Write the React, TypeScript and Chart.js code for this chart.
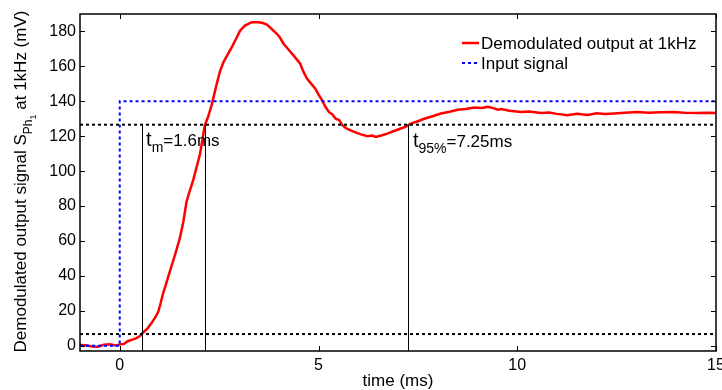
import { useEffect, useRef } from "react";
import { Chart, registerables } from "chart.js";

Chart.register(...registerables);

const FONT = '"Liberation Sans", Arial, Helvetica, sans-serif';

// Demodulated output (mV) sampled over time (ms)
const timeMs = [
  -1, -0.85, -0.7, -0.55, -0.4, -0.25, -0.1, 0.0, 0.1, 0.2, 0.3, 0.42, 0.5, 0.59, 0.7, 0.8, 0.9,
  0.97, 1.03, 1.09, 1.16, 1.22, 1.3, 1.39, 1.51, 1.6, 1.68, 1.76, 1.85, 1.93, 2.02, 2.14, 2.22,
  2.31, 2.44, 2.52, 2.61, 2.72, 2.82, 2.93, 3.03, 3.15, 3.32, 3.49, 3.6, 3.7, 3.82, 3.95, 4.03,
  4.12, 4.25, 4.37, 4.54, 4.62, 4.71, 4.82, 4.92, 5.0, 5.09, 5.17, 5.26, 5.35, 5.43, 5.52, 5.6,
  5.7, 5.81, 5.9, 6.05, 6.23, 6.35, 6.44, 6.6, 6.73, 6.9, 7.07, 7.2, 7.32, 7.5, 7.66, 7.85, 8.08,
  8.3, 8.5, 8.7, 8.92, 9.1, 9.26, 9.4, 9.51, 9.6, 9.8, 10.1, 10.3, 10.6, 10.8, 11.0, 11.26, 11.5,
  11.77, 12.0, 12.2, 12.44, 12.7, 13.02, 13.3, 13.6, 13.95, 14.2, 14.54, 14.8, 15.0,
];
const outputMv = [
  0.5, 0.3, -0.4, -0.5, 0.6, 0.8, 0.2, 0.8, 1.0, 2.6, 3.4, 4.4, 5.4, 7.6, 10, 13, 16.5,
  19.6, 24.5, 30, 35, 39.6, 45.5, 52, 61.5, 71, 82.5, 88.5, 95, 102, 110, 126.3, 131,
  137.7, 150, 157, 162.5, 167, 171, 176, 180.6, 183.4, 185.3, 185.3, 184.8, 184, 181.5, 178.7, 176.5,
  173, 169.5, 166.3, 161.5, 157, 153, 150, 147.2, 144, 140.6, 137, 133.9, 132.5, 130, 129.3, 126.3,
  124.5, 123.4, 122.5, 121.2, 120, 120.4, 119.6, 120.6, 121.5, 123, 124.4, 125.5, 127.2, 128.6, 130, 131.3, 133,
  134, 135.2, 135.6, 136.4, 136.2, 136.8, 136.1, 135.2, 135.6, 134.6, 133.9, 134.2, 133.3, 133.6, 132.8, 132, 132.9,
  132.2, 133.1, 132.7, 133, 133.4, 133.9, 133.5, 133.8, 133.9, 133.4, 133.3, 133.5, 133.3,
];

// Step input
const inputTimeMs = [-1, 0, 0, 15];
const inputMv = [0, 0, 140, 140];

// Settling band limits (mV)
const settleHighMv = 126.6;
const settleLowMv = 6.7;

// Timing markers (ms)
const tmStartMs = 0.55;
const tmMs = 1.6;
const t95Ms = 7.25;
const markerTimesMs = [tmStartMs, tmStartMs + tmMs, t95Ms];

const xRange = [-1, 15];
const yRange = [-3, 190];
const xTicks = [0, 5, 10, 15];
const yTicks = [0, 20, 40, 60, 80, 100, 120, 140, 160, 180];

const legendLabels = ["Demodulated output at 1kHz", "Input signal"];
const RED = "#ff0000";
const BLUE = "#0000ff";

type Part = { text: string; size: number; dy?: number };

function richWidth(ctx: CanvasRenderingContext2D, parts: Part[]) {
  let w = 0;
  for (const p of parts) {
    ctx.font = `${p.size}px ${FONT}`;
    w += ctx.measureText(p.text).width;
  }
  return w;
}

function drawRich(ctx: CanvasRenderingContext2D, x: number, y: number, parts: Part[]) {
  let cx = x;
  for (const p of parts) {
    ctx.font = `${p.size}px ${FONT}`;
    ctx.fillText(p.text, cx, y + (p.dy || 0));
    cx += ctx.measureText(p.text).width;
  }
}

const decorations = {
  id: "decorations",
  afterDraw(chart: any) {
    const { ctx, chartArea } = chart;
    const xs = chart.scales.x;
    const ys = chart.scales.y;
    const { left, right, top, bottom } = chartArea;
    ctx.save();
    ctx.fillStyle = "#000";
    ctx.strokeStyle = "#000";

    // timing marker lines, snapped to the pixel grid
    ctx.lineWidth = 1;
    ctx.beginPath();
    const yHigh = ys.getPixelForValue(settleHighMv);
    for (const t of markerTimesMs) {
      const px = Math.round(xs.getPixelForValue(t)) + 0.5;
      ctx.moveTo(px, bottom);
      ctx.lineTo(px, yHigh);
    }
    ctx.stroke();

    // axes box with inward ticks
    ctx.lineWidth = 1.5;
    ctx.setLineDash([]);
    ctx.strokeRect(left, top, right - left, bottom - top);
    ctx.lineWidth = 1;
    const tl = 5;
    ctx.beginPath();
    for (const v of xTicks) {
      const px = Math.round(xs.getPixelForValue(v)) + 0.5;
      ctx.moveTo(px, bottom);
      ctx.lineTo(px, bottom - tl);
      ctx.moveTo(px, top);
      ctx.lineTo(px, top + tl);
    }
    for (const v of yTicks) {
      const py = Math.round(ys.getPixelForValue(v)) + 0.5;
      ctx.moveTo(left, py);
      ctx.lineTo(left + tl, py);
      ctx.moveTo(right, py);
      ctx.lineTo(right - tl, py);
    }
    ctx.stroke();

    // y-axis title with subscripts
    const yTitle: Part[] = [
      { text: "Demodulated output signal S", size: 17 },
      { text: "Ph", size: 12, dy: 6 },
      { text: "1", size: 9, dy: 10 },
      { text: " at 1kHz (mV)", size: 17 },
    ];
    const tw = richWidth(ctx, yTitle);
    ctx.save();
    ctx.translate(26, (top + bottom) / 2 - 1);
    ctx.rotate(-Math.PI / 2);
    ctx.textBaseline = "alphabetic";
    drawRich(ctx, -tw / 2, 0, yTitle);
    ctx.restore();

    // timing annotations
    ctx.textBaseline = "alphabetic";
    drawRich(ctx, xs.getPixelForValue(tmStartMs) + 4.5, yHigh + 21, [
      { text: "t", size: 20 },
      { text: "m", size: 14, dy: 6 },
      { text: `=${tmMs}ms`, size: 17 },
    ]);
    drawRich(ctx, xs.getPixelForValue(t95Ms) + 5, yHigh + 22, [
      { text: "t", size: 20 },
      { text: "95%", size: 14, dy: 6 },
      { text: `=${t95Ms}ms`, size: 17 },
    ]);

    // legend
    const lx0 = 462;
    const lx1 = 479;
    ctx.lineWidth = 2.5;
    ctx.strokeStyle = RED;
    ctx.beginPath();
    ctx.moveTo(lx0, 43);
    ctx.lineTo(lx1, 43);
    ctx.stroke();
    ctx.lineWidth = 2;
    ctx.strokeStyle = BLUE;
    ctx.setLineDash([3, 3]);
    ctx.beginPath();
    ctx.moveTo(lx0, 63);
    ctx.lineTo(lx1, 63);
    ctx.stroke();
    ctx.setLineDash([]);
    ctx.font = `17px ${FONT}`;
    ctx.fillStyle = "#000";
    ctx.fillText(legendLabels[0], 481, 48.5);
    ctx.fillText(legendLabels[1], 481, 68.5);

    ctx.restore();
  },
};

export default function App() {
  const ref = useRef<HTMLCanvasElement | null>(null);

  useEffect(() => {
    if (!ref.current) return;
    const pts = (xs: number[], ys: number[]) => xs.map((x, i) => ({ x, y: ys[i] }));
    const common = { pointRadius: 0, fill: false, tension: 0, borderCapStyle: "butt" as const };

    const chart = new Chart(ref.current, {
      type: "line",
      data: {
        datasets: [
          {
            ...common,
            label: "high",
            data: [{ x: xRange[0], y: settleHighMv }, { x: xRange[1], y: settleHighMv }],
            borderColor: "#000",
            borderWidth: 2,
            borderDash: [3, 3],
          },
          {
            ...common,
            label: "low",
            data: [{ x: xRange[0], y: settleLowMv }, { x: xRange[1], y: settleLowMv }],
            borderColor: "#000",
            borderWidth: 2,
            borderDash: [3, 3],
          },
          {
            ...common,
            label: legendLabels[1],
            data: pts(inputTimeMs, inputMv),
            borderColor: BLUE,
            borderWidth: 2,
            borderDash: [3, 3],
          },
          {
            ...common,
            label: legendLabels[0],
            data: pts(timeMs, outputMv),
            borderColor: RED,
            borderWidth: 2.5,
          },
        ],
      },
      options: {
        responsive: false,
        animation: false,
        layout: { padding: { top: 14, right: 6, left: 0, bottom: 0 } },
        plugins: { legend: { display: false }, tooltip: { enabled: false } },
        scales: {
          x: {
            type: "linear",
            min: xRange[0],
            max: xRange[1],
            afterBuildTicks: (s: any) => {
              s.ticks = xTicks.map((value) => ({ value }));
            },
            afterFit: (s: any) => {
              s.height = 39;
              s.paddingLeft = 0;
              s.paddingRight = 0;
            },
            grid: { display: false, drawTicks: false },
            border: { display: false },
            ticks: { color: "#000", font: { family: FONT, size: 16 }, padding: 5, maxRotation: 0 },
            title: {
              display: true,
              text: "time (ms)",
              color: "#000",
              font: { family: FONT, size: 17 },
              padding: { top: 0, bottom: -2 },
            },
          },
          y: {
            type: "linear",
            min: yRange[0],
            max: yRange[1],
            afterBuildTicks: (s: any) => {
              s.ticks = yTicks.map((value) => ({ value }));
            },
            afterFit: (s: any) => {
              s.width = 80;
              s.paddingTop = 0;
              s.paddingBottom = 0;
            },
            grid: { display: false, drawTicks: false },
            border: { display: false },
            ticks: { color: "#000", font: { family: FONT, size: 16 }, padding: 4 },
          },
        },
      },
      plugins: [decorations],
    });
    return () => chart.destroy();
  }, []);

  return (
    <div style={{ position: "absolute", left: 0, top: 0, width: 722, height: 390, background: "#fff" }}>
      <canvas ref={ref} width={722} height={390} />
    </div>
  );
}
